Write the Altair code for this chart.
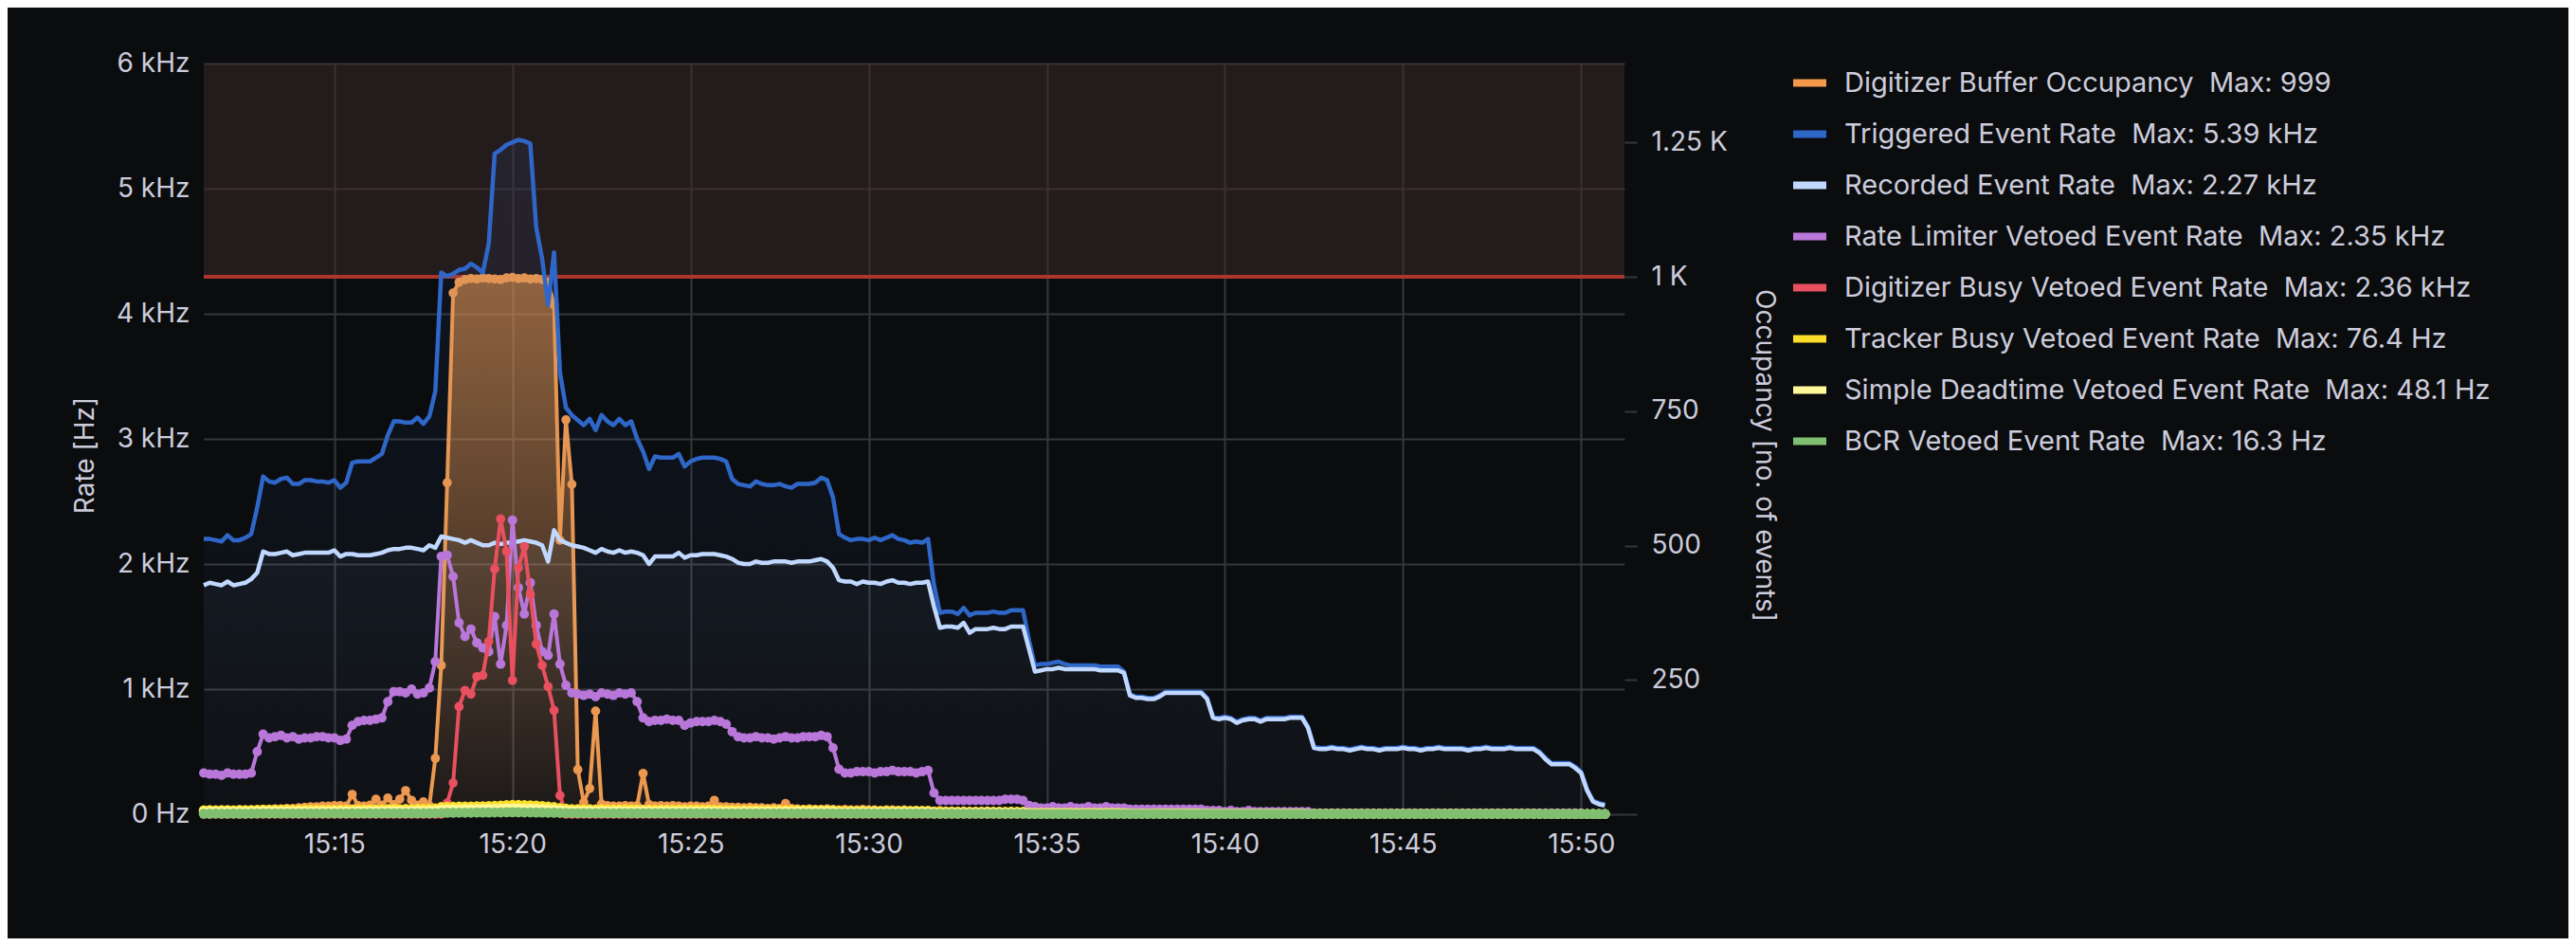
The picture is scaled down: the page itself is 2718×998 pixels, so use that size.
import altair as alt
import pandas as pd

# ---------------- data ----------------
START = "2023-01-01 15:11:20"   # first sample
STEP = "10s"                    # sampling interval
X_START = (15, 11, 20)
X_END = (15, 51, 13)
TICK_MINUTES = [15, 20, 25, 30, 35, 40, 45, 50]
RATE_TICKS = [0, 1000, 2000, 3000, 4000, 5000, 6000]
OCC_TICKS = [0, 250, 500, 750, 1000, 1250]
RATE_MAX = 6000
OCC_MAX = 1397
OCC_THRESHOLD = 1000

NAMES = [
    "Digitizer Buffer Occupancy",
    "Triggered Event Rate",
    "Recorded Event Rate",
    "Rate Limiter Vetoed Event Rate",
    "Digitizer Busy Vetoed Event Rate",
    "Tracker Busy Vetoed Event Rate",
    "Simple Deadtime Vetoed Event Rate",
    "BCR Vetoed Event Rate",
]
COLORS = ["#F2994A", "#2F67C9", "#C0D8FF", "#B877D9", "#E8505F", "#FADE2A", "#FFF899", "#80BE70"]

OCCUPANCY = [
    6, 6, 7, 6, 7, 7, 8, 7, 8, 8,
    9, 9, 10, 10, 11, 11, 12, 13, 14, 14,
    15, 15, 16, 16, 15, 37, 16, 15, 17, 28,
    17, 30, 18, 28, 44, 26, 17, 23, 16, 104,
    277, 617, 970, 990, 995, 997, 996, 998, 997, 996,
    995, 998, 999, 997, 998, 996, 997, 995, 990, 948,
    510, 734, 614, 83, 22, 48, 192, 19, 16, 15,
    15, 16, 15, 16, 76, 18, 15, 16, 15, 16,
    15, 14, 15, 15, 14, 15, 26, 14, 14, 13,
    13, 12, 13, 12, 12, 11, 12, 11, 20, 11,
    10, 9, 10, 9, 9, 10, 9, 8, 9, 8,
    8, 9, 8, 8, 7, 8, 8, 7, 8, 7,
    7, 7, 6, 6, 7, 6, 6, 5, 6, 5,
    5, 5, 6, 5, 5, 4, 5, 4, 4, 5,
    4, 4, 4, 3, 4, 3, 4, 3, 3, 4,
    3, 3, 3, 3, 3, 3, 2, 3, 2, 2,
    2, 2, 3, 2, 2, 2, 2, 2, 2, 2,
    2, 2, 2, 2, 2, 2, 2, 2, 2, 2,
    2, 2, 2, 2, 2, 2, 1, 2, 1, 1,
    1, 1, 1, 1, 1, 1, 1, 1, 1, 1,
    1, 1, 1, 1, 1, 1, 1, 1, 1, 1,
    1, 1, 1, 1, 1, 1, 1, 1, 1, 1,
    1, 1, 1, 1, 1, 1, 1, 1, 1, 1,
    1, 1, 1, 1, 1, 0, 0,
]

TRIGGERED_KHZ = [
    2.20, 2.20, 2.19, 2.18, 2.23, 2.19, 2.19, 2.21, 2.24, 2.45,
    2.70, 2.66, 2.65, 2.68, 2.69, 2.64, 2.64, 2.67, 2.67, 2.66,
    2.66, 2.65, 2.67, 2.61, 2.65, 2.81, 2.82, 2.82, 2.82, 2.85,
    2.88, 3.03, 3.14, 3.14, 3.13, 3.13, 3.17, 3.12, 3.18, 3.38,
    4.33, 4.30, 4.32, 4.35, 4.36, 4.40, 4.37, 4.33, 4.56, 5.28,
    5.31, 5.35, 5.37, 5.39, 5.38, 5.36, 4.69, 4.44, 4.07, 4.49,
    3.53, 3.25, 3.19, 3.15, 3.11, 3.16, 3.07, 3.19, 3.14, 3.11,
    3.16, 3.11, 3.14, 3.00, 2.90, 2.76, 2.86, 2.85, 2.85, 2.85,
    2.88, 2.78, 2.82, 2.84, 2.85, 2.85, 2.85, 2.84, 2.82, 2.68,
    2.64, 2.63, 2.62, 2.66, 2.64, 2.63, 2.63, 2.64, 2.62, 2.61,
    2.64, 2.64, 2.64, 2.65, 2.69, 2.67, 2.53, 2.24, 2.21, 2.19,
    2.20, 2.20, 2.19, 2.21, 2.19, 2.21, 2.23, 2.20, 2.19, 2.17,
    2.18, 2.17, 2.20, 1.83, 1.61, 1.62, 1.62, 1.60, 1.65, 1.59,
    1.61, 1.61, 1.61, 1.62, 1.61, 1.61, 1.63, 1.63, 1.63, 1.39,
    1.19, 1.20, 1.20, 1.21, 1.22, 1.20, 1.19, 1.19, 1.19, 1.19,
    1.19, 1.18, 1.18, 1.18, 1.18, 1.14, 0.96, 0.94, 0.94, 0.93,
    0.93, 0.95, 0.98, 0.98, 0.98, 0.98, 0.98, 0.98, 0.98, 0.93,
    0.78, 0.77, 0.78, 0.77, 0.74, 0.76, 0.77, 0.77, 0.75, 0.77,
    0.77, 0.77, 0.77, 0.78, 0.78, 0.78, 0.70, 0.54, 0.53, 0.53,
    0.54, 0.53, 0.53, 0.52, 0.53, 0.54, 0.53, 0.53, 0.52, 0.53,
    0.53, 0.53, 0.54, 0.53, 0.53, 0.52, 0.53, 0.53, 0.54, 0.53,
    0.53, 0.53, 0.53, 0.52, 0.53, 0.53, 0.54, 0.53, 0.53, 0.53,
    0.54, 0.53, 0.53, 0.53, 0.53, 0.50, 0.45, 0.41, 0.41, 0.41,
    0.41, 0.38, 0.34, 0.20, 0.11, 0.09, 0.08,
]

RECORDED_KHZ = [
    1.83, 1.85, 1.84, 1.83, 1.86, 1.83, 1.84, 1.85, 1.88, 1.93,
    2.10, 2.08, 2.08, 2.09, 2.10, 2.07, 2.08, 2.09, 2.09, 2.09,
    2.09, 2.09, 2.11, 2.06, 2.08, 2.08, 2.07, 2.07, 2.07, 2.08,
    2.09, 2.11, 2.12, 2.12, 2.13, 2.13, 2.12, 2.11, 2.15, 2.13,
    2.22, 2.21, 2.20, 2.19, 2.17, 2.19, 2.17, 2.15, 2.15, 2.17,
    2.16, 2.17, 2.17, 2.18, 2.19, 2.18, 2.17, 2.15, 2.02, 2.27,
    2.19, 2.17, 2.15, 2.14, 2.13, 2.11, 2.09, 2.12, 2.10, 2.09,
    2.11, 2.09, 2.10, 2.09, 2.07, 2.00, 2.06, 2.06, 2.06, 2.06,
    2.09, 2.05, 2.07, 2.07, 2.08, 2.08, 2.08, 2.07, 2.06, 2.04,
    2.01, 2.00, 2.00, 2.02, 2.01, 2.01, 2.02, 2.02, 2.02, 2.01,
    2.02, 2.02, 2.02, 2.03, 2.04, 2.02, 1.97, 1.87, 1.86, 1.86,
    1.84, 1.86, 1.85, 1.85, 1.84, 1.86, 1.87, 1.85, 1.85, 1.84,
    1.85, 1.85, 1.86, 1.66, 1.49, 1.50, 1.50, 1.49, 1.53, 1.45,
    1.48, 1.48, 1.48, 1.49, 1.48, 1.48, 1.50, 1.50, 1.50, 1.32,
    1.14, 1.15, 1.16, 1.16, 1.17, 1.16, 1.16, 1.16, 1.16, 1.16,
    1.16, 1.15, 1.15, 1.15, 1.15, 1.13, 0.95, 0.93, 0.93, 0.92,
    0.92, 0.94, 0.97, 0.97, 0.97, 0.97, 0.97, 0.97, 0.97, 0.92,
    0.77, 0.76, 0.77, 0.76, 0.73, 0.75, 0.76, 0.76, 0.74, 0.76,
    0.76, 0.76, 0.76, 0.77, 0.77, 0.77, 0.69, 0.53, 0.52, 0.52,
    0.53, 0.52, 0.52, 0.51, 0.52, 0.53, 0.52, 0.52, 0.51, 0.52,
    0.52, 0.52, 0.53, 0.52, 0.52, 0.51, 0.52, 0.52, 0.53, 0.52,
    0.52, 0.52, 0.52, 0.51, 0.52, 0.52, 0.53, 0.52, 0.52, 0.52,
    0.53, 0.52, 0.52, 0.52, 0.52, 0.49, 0.44, 0.40, 0.40, 0.40,
    0.40, 0.37, 0.33, 0.19, 0.10, 0.08, 0.07,
]

RATE_LIMITER_KHZ = [
    0.33, 0.32, 0.32, 0.31, 0.33, 0.32, 0.32, 0.32, 0.33, 0.50,
    0.64, 0.61, 0.62, 0.63, 0.61, 0.62, 0.60, 0.61, 0.61, 0.62,
    0.62, 0.61, 0.61, 0.59, 0.60, 0.71, 0.74, 0.75, 0.75, 0.76,
    0.77, 0.90, 0.98, 0.98, 0.97, 1.00, 0.96, 0.97, 1.01, 1.22,
    2.06, 2.07, 1.90, 1.53, 1.42, 1.48, 1.37, 1.33, 1.30, 1.58,
    1.20, 1.51, 2.35, 1.81, 1.60, 1.85, 1.51, 1.30, 1.27, 1.60,
    1.20, 1.03, 0.97, 0.96, 0.95, 0.96, 0.94, 0.97, 0.96, 0.95,
    0.97, 0.96, 0.97, 0.90, 0.77, 0.74, 0.75, 0.75, 0.76, 0.75,
    0.75, 0.71, 0.73, 0.74, 0.74, 0.74, 0.75, 0.74, 0.72, 0.66,
    0.62, 0.61, 0.61, 0.62, 0.61, 0.61, 0.60, 0.61, 0.62, 0.61,
    0.61, 0.62, 0.62, 0.62, 0.63, 0.62, 0.53, 0.36, 0.33, 0.33,
    0.34, 0.34, 0.34, 0.33, 0.34, 0.34, 0.35, 0.34, 0.34, 0.34,
    0.33, 0.34, 0.35, 0.17, 0.11, 0.11, 0.11, 0.11, 0.11, 0.11,
    0.11, 0.11, 0.11, 0.11, 0.11, 0.12, 0.12, 0.12, 0.11, 0.07,
    0.06, 0.05, 0.05, 0.06, 0.05, 0.05, 0.06, 0.05, 0.05, 0.06,
    0.05, 0.05, 0.06, 0.05, 0.05, 0.05, 0.04, 0.04, 0.04, 0.04,
    0.04, 0.04, 0.04, 0.04, 0.04, 0.04, 0.04, 0.04, 0.04, 0.03,
    0.03, 0.03, 0.02, 0.03, 0.02, 0.02, 0.03, 0.02, 0.02, 0.02,
    0.02, 0.02, 0.02, 0.02, 0.02, 0.02, 0.02, 0.01, 0.01, 0.01,
    0.01, 0.01, 0.01, 0.01, 0.01, 0.01, 0.01, 0.01, 0.01, 0.01,
    0.01, 0.01, 0.01, 0.01, 0.01, 0.01, 0.01, 0.01, 0.01, 0.01,
    0.01, 0.01, 0.01, 0.01, 0.01, 0.01, 0.01, 0.01, 0.01, 0.01,
    0.01, 0.01, 0.01, 0.01, 0.01, 0.01, 0.01, 0.01, 0.01, 0.01,
    0.01, 0.01, 0.01, 0.00, 0.00, 0.00, 0.00,
]

DIGITIZER_BUSY_KHZ = [
    0, 0, 0, 0, 0, 0, 0, 0, 0, 0,
    0, 0, 0, 0, 0, 0, 0, 0, 0, 0,
    0, 0, 0, 0, 0, 0, 0, 0, 0, 0,
    0, 0, 0, 0, 0, 0, 0, 0, 0, 0,
    0.00, 0.09, 0.25, 0.86, 0.99, 0.96, 1.10, 1.11, 1.38, 1.96,
    2.36, 2.10, 1.07, 1.97, 2.14, 1.76, 1.36, 1.19, 1.02, 0.83,
    0.15, 0, 0, 0, 0, 0, 0, 0, 0, 0,
    0, 0, 0, 0, 0, 0, 0, 0, 0, 0,
    0, 0, 0, 0, 0, 0, 0, 0, 0, 0,
    0, 0, 0, 0, 0, 0, 0, 0, 0, 0,
    0, 0, 0, 0, 0, 0, 0, 0, 0, 0,
    0, 0, 0, 0, 0, 0, 0, 0, 0, 0,
    0, 0, 0, 0, 0, 0, 0, 0, 0, 0,
    0, 0, 0, 0, 0, 0, 0, 0, 0, 0,
    0, 0, 0, 0, 0, 0, 0, 0, 0, 0,
    0, 0, 0, 0, 0, 0, 0, 0, 0, 0,
    0, 0, 0, 0, 0, 0, 0, 0, 0, 0,
    0, 0, 0, 0, 0, 0, 0, 0, 0, 0,
    0, 0, 0, 0, 0, 0, 0, 0, 0, 0,
    0, 0, 0, 0, 0, 0, 0, 0, 0, 0,
    0, 0, 0, 0, 0, 0, 0, 0, 0, 0,
    0, 0, 0, 0, 0, 0, 0, 0, 0, 0,
    0, 0, 0, 0, 0, 0, 0, 0, 0, 0,
    0, 0, 0, 0, 0, 0, 0,
]

TRACKER_BUSY_HZ = [
    33, 34, 33, 35, 34, 33, 34, 35, 34, 36,
    38, 37, 38, 37, 38, 36, 37, 38, 37, 38,
    37, 38, 36, 37, 38, 39, 40, 39, 40, 41,
    40, 42, 43, 42, 43, 42, 44, 43, 44, 48,
    58, 60, 61, 62, 63, 63, 64, 65, 66, 68,
    71, 74, 76.4, 75, 74, 72, 70, 67, 63, 58,
    52, 45, 42, 41, 40, 41, 40, 41, 40, 39,
    40, 41, 40, 39, 38, 38, 37, 38, 38, 37,
    38, 38, 37, 38, 37, 38, 37, 36, 35, 35,
    34, 35, 34, 35, 34, 35, 34, 34, 35, 34,
    35, 34, 34, 35, 34, 35, 33, 28, 27, 28,
    27, 28, 27, 28, 27, 28, 27, 28, 27, 27,
    28, 27, 28, 21, 20, 21, 20, 21, 20, 20,
    21, 20, 21, 20, 21, 20, 21, 20, 21, 14,
    13, 14, 13, 14, 13, 14, 13, 14, 13, 14,
    13, 14, 13, 14, 13, 12, 9, 8, 9, 8,
    9, 9, 9, 9, 9, 9, 9, 9, 8, 8,
    7, 7, 7, 7, 7, 7, 7, 7, 7, 7,
    7, 7, 7, 7, 7, 7, 6, 5, 5, 5,
    5, 5, 5, 5, 5, 5, 5, 5, 5, 5,
    5, 5, 5, 5, 5, 5, 5, 5, 5, 5,
    5, 5, 5, 5, 5, 5, 5, 5, 5, 5,
    5, 5, 5, 5, 5, 4, 4, 4, 4, 4,
    4, 3, 3, 2, 1, 1, 1,
]

DEADTIME_HZ = [
    20, 21, 20, 21, 22, 21, 20, 21, 22, 22,
    24, 23, 24, 23, 24, 23, 24, 24, 23, 24,
    24, 23, 24, 25, 24, 25, 26, 25, 26, 26,
    25, 27, 27, 26, 27, 27, 28, 27, 28, 31,
    36, 38, 39, 40, 40, 41, 42, 42, 43, 44,
    46, 47, 48.1, 47, 46, 45, 44, 42, 40, 37,
    33, 29, 27, 26, 26, 26, 25, 26, 25, 25,
    26, 25, 25, 24, 24, 24, 23, 24, 24, 23,
    24, 24, 23, 24, 23, 24, 23, 22, 22, 22,
    21, 22, 21, 22, 21, 22, 21, 21, 22, 21,
    22, 21, 21, 22, 21, 22, 21, 18, 17, 18,
    17, 18, 17, 18, 17, 18, 17, 18, 17, 17,
    18, 17, 18, 13, 12, 13, 12, 13, 12, 12,
    13, 12, 13, 12, 13, 12, 13, 12, 13, 9,
    8, 9, 8, 9, 8, 9, 8, 9, 8, 9,
    8, 9, 8, 9, 8, 8, 6, 6, 6, 6,
    6, 6, 7, 7, 7, 7, 7, 7, 7, 6,
    5, 5, 5, 5, 5, 5, 5, 5, 5, 5,
    5, 5, 5, 5, 5, 5, 4, 3, 3, 3,
    3, 3, 3, 3, 3, 3, 3, 3, 3, 3,
    3, 3, 3, 3, 3, 3, 3, 3, 3, 3,
    3, 3, 3, 3, 3, 3, 3, 3, 3, 3,
    3, 3, 3, 3, 3, 3, 2, 2, 2, 2,
    2, 2, 2, 1, 1, 1, 1,
]

BCR_HZ = [
    5, 5, 6, 5, 5, 6, 5, 5, 6, 6,
    7, 6, 7, 6, 7, 7, 6, 7, 7, 7,
    7, 7, 7, 7, 7, 8, 7, 8, 8, 7,
    8, 8, 8, 8, 8, 8, 8, 8, 8, 9,
    11, 12, 12, 13, 13, 13, 14, 14, 14, 15,
    15, 16, 16.3, 16, 15, 15, 14, 14, 13, 12,
    11, 10, 9, 9, 9, 8, 9, 8, 9, 8,
    8, 9, 8, 8, 8, 8, 8, 8, 8, 8,
    8, 8, 8, 8, 8, 8, 8, 7, 7, 7,
    7, 7, 7, 7, 7, 7, 7, 7, 7, 7,
    7, 7, 7, 7, 7, 7, 7, 6, 6, 6,
    6, 6, 6, 6, 6, 6, 6, 6, 6, 6,
    6, 6, 6, 4, 4, 4, 4, 4, 4, 4,
    4, 4, 4, 4, 4, 4, 4, 4, 4, 3,
    3, 3, 3, 3, 3, 3, 3, 3, 3, 3,
    3, 3, 3, 3, 3, 3, 2, 2, 2, 2,
    2, 2, 2, 2, 2, 2, 2, 2, 2, 2,
    2, 2, 2, 2, 2, 2, 2, 2, 2, 2,
    2, 2, 2, 2, 2, 2, 2, 2, 2, 2,
    2, 2, 2, 2, 2, 2, 2, 2, 2, 2,
    2, 2, 2, 2, 2, 2, 2, 2, 2, 2,
    2, 2, 2, 2, 2, 2, 2, 2, 2, 2,
    2, 2, 2, 2, 2, 2, 2, 2, 2, 2,
    2, 2, 2, 2, 2, 2, 2,
]

# ---------------- styling ----------------
BG = "#0b0c0e"
TEXT = "#ccccdc"
GRID = "#36373b"
FONT = "Inter"
FS = 28
LEGEND_FS = 29
THRESH_LINE = "#A9372C"
THRESH_FILL = "rgba(61,42,42,0.5)"


def to_hz(khz):
    return [v * 1000 for v in khz]


def fmt_rate(hz):
    return f"{hz / 1000:.3g} kHz" if hz >= 1000 else f"{hz:.3g} Hz"


RATE_SERIES = [
    to_hz(TRIGGERED_KHZ),
    to_hz(RECORDED_KHZ),
    to_hz(RATE_LIMITER_KHZ),
    to_hz(DIGITIZER_BUSY_KHZ),
    TRACKER_BUSY_HZ,
    DEADTIME_HZ,
    BCR_HZ,
]

LABELS = [f"{NAMES[0]}\u00a0\u00a0Max: {max(OCCUPANCY):.0f}"] + [
    f"{n}\u00a0\u00a0Max: {fmt_rate(max(v))}" for n, v in zip(NAMES[1:], RATE_SERIES)
]


def frame(label, values):
    t = pd.date_range(START, periods=len(values), freq=STEP).strftime("%Y-%m-%dT%H:%M:%S")
    return pd.DataFrame({"t": list(t), "series": label, "v": values})


def dt(h, m, s=0):
    return alt.DateTime(year=2023, month=1, date=1, hours=h, minutes=m, seconds=s)


x_axis = alt.Axis(values=[dt(15, m) for m in TICK_MINUTES], format="%H:%M", title=None,
                  grid=True, ticks=False, tickSize=0, labelPadding=18, domain=False)
x_enc = alt.X("t:T", scale=alt.Scale(domain=[dt(*X_START), dt(*X_END)]), axis=x_axis)

rate_axis = alt.Axis(orient="left", values=RATE_TICKS,
                     labelExpr="datum.value == 0 ? '0 Hz' : (datum.value / 1000) + ' kHz'",
                     title="Rate [Hz]", grid=True, ticks=False, tickSize=0, labelPadding=15,
                     domain=False, titleX=-125, titleY=413, titleAngle=270,
                     titleAlign="center", titleBaseline="middle")
rate_scale = alt.Scale(domain=[0, RATE_MAX], nice=False, zero=True)

occ_axis = alt.Axis(orient="right", values=OCC_TICKS,
                    labelExpr="datum.value == 0 ? '' : (datum.value >= 1000 ? (datum.value / 1000) + ' K' : '' + datum.value)",
                    title="Occupancy [no. of events]", grid=False, ticks=True, tickSize=13,
                    tickColor=GRID, tickWidth=2, labelPadding=15, domain=False,
                    titleX=146, titleY=413, titleAngle=90, titleAlign="center",
                    titleBaseline="middle")
occ_scale = alt.Scale(domain=[0, OCC_MAX], nice=False, zero=True)


def grad(rgb, top, bottom):
    return alt.Gradient(gradient="linear", x1=1, x2=1, y1=1, y2=0, stops=[
        alt.GradientStop(color=f"rgba({rgb},{bottom})", offset=0),
        alt.GradientStop(color=f"rgba({rgb},{top})", offset=1),
    ])


# ---------- occupancy (right axis) ----------
thr_df = pd.DataFrame({"lo": [OCC_THRESHOLD], "hi": [OCC_MAX]})
thr_rect = alt.Chart(thr_df).mark_rect(color=THRESH_FILL).encode(
    y=alt.Y("lo:Q", scale=occ_scale, axis=occ_axis), y2="hi:Q",
    x=alt.value(0), x2=alt.value("width"))
thr_rule = alt.Chart(thr_df).mark_rule(color=THRESH_LINE, strokeWidth=4).encode(
    y=alt.Y("lo:Q", scale=occ_scale, axis=occ_axis))

occ_df = frame(LABELS[0], OCCUPANCY)
y_occ = alt.Y("v:Q", scale=occ_scale, axis=occ_axis)
occ_area = alt.Chart(occ_df).mark_area(color=grad("242,153,74", 0.62, 0.06)).encode(x=x_enc, y=y_occ)
occ_line = alt.Chart(occ_df).mark_line(color=COLORS[0], strokeWidth=4, strokeJoin="round").encode(x=x_enc, y=y_occ)
occ_pts = alt.Chart(occ_df).mark_circle(color=COLORS[0], size=95, opacity=1).encode(x=x_enc, y=y_occ)

occ_layer = alt.layer(thr_rect, thr_rule, occ_area, occ_line, occ_pts)

# ---------- rates (left axis) ----------
y_rate = alt.Y("v:Q", scale=rate_scale, axis=rate_axis)
rate_frames = [frame(l, v) for l, v in zip(LABELS[1:], RATE_SERIES)]

legend = alt.Legend(orient="none", legendX=1673, legendY=-1, title=None, labelFont=FONT,
                    labelFontSize=LEGEND_FS, labelColor=TEXT, labelLimit=2000,
                    symbolType="M-1,0H1", symbolSize=1225, symbolStrokeWidth=8, symbolOpacity=1,
                    rowPadding=16, labelOffset=15, padding=0)
color_enc = alt.Color("series:N", scale=alt.Scale(domain=LABELS, range=COLORS), legend=legend)

rate_layers = [
    alt.Chart(rate_frames[0]).mark_area(color=grad("47,103,201", 0.10, 0.02)).encode(x=x_enc, y=y_rate),
    alt.Chart(rate_frames[1]).mark_area(color=grad("192,216,255", 0.05, 0.01)).encode(x=x_enc, y=y_rate),
]
MARKED = {2, 3, 4, 5, 6}
POINT_SIZE = {2: 100, 3: 95, 4: 110, 5: 110, 6: 115}
for k, df in enumerate(rate_frames):
    col = COLORS[k + 1]
    if k == 0:
        rate_layers.append(alt.Chart(df).mark_line(strokeWidth=4.5, strokeJoin="round").encode(
            x=x_enc, y=y_rate, color=color_enc))
    else:
        rate_layers.append(alt.Chart(df).mark_line(color=col, strokeWidth=4.5 if k == 1 else 4,
                                                   strokeJoin="round").encode(x=x_enc, y=y_rate))
    if k in MARKED:
        rate_layers.append(alt.Chart(df).mark_circle(color=col, size=POINT_SIZE[k], opacity=1).encode(
            x=x_enc, y=y_rate))

rate_layer = alt.layer(*rate_layers)

chart = alt.layer(occ_layer, rate_layer).resolve_scale(y="independent").properties(
    width=1499, height=792,
    autosize=alt.AutoSizeParams(type="none"),
    padding={"left": 207, "top": 59, "right": 996, "bottom": 131},
    background=BG,
).configure_view(strokeWidth=0).configure_axis(
    labelFont=FONT, titleFont=FONT, labelColor=TEXT, titleColor=TEXT,
    labelFontSize=FS, titleFontSize=FS, titleFontWeight="normal",
    gridColor=GRID, gridWidth=2,
)

chart.save("out.html", embed_options={"renderer": "svg", "actions": False})
